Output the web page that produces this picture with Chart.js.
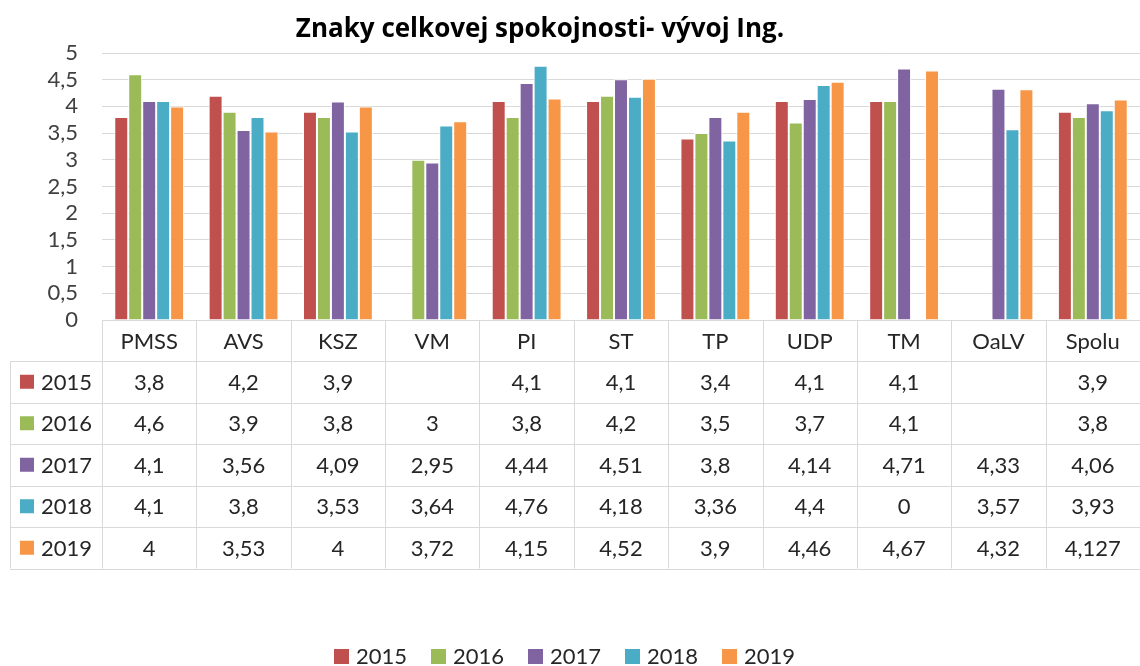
<!DOCTYPE html>
<html>
<head>
<meta charset="utf-8">
<script src="https://cdn.jsdelivr.net/npm/chart.js@4/dist/chart.umd.min.js"></script>
<style>
  html, body { margin: 0; padding: 0; background: #fff; }
  #wrap { width: 1140px; height: 666px; }
</style>
</head>
<body>
<div id="wrap"><canvas id="chart"></canvas></div>
<script>
const title = 'Znaky celkovej spokojnosti- vývoj Ing.';
const categories = ['PMSS', 'AVS', 'KSZ', 'VM', 'PI', 'ST', 'TP', 'UDP', 'TM', 'OaLV', 'Spolu'];
const years = ['2015', '2016', '2017', '2018', '2019'];
const v2015 = [3.8, 4.2, 3.9, null, 4.1, 4.1, 3.4, 4.1, 4.1, null, 3.9];
const v2016 = [4.6, 3.9, 3.8, 3, 3.8, 4.2, 3.5, 3.7, 4.1, null, 3.8];
const v2017 = [4.1, 3.56, 4.09, 2.95, 4.44, 4.51, 3.8, 4.14, 4.71, 4.33, 4.06];
const v2018 = [4.1, 3.8, 3.53, 3.64, 4.76, 4.18, 3.36, 4.4, 0, 3.57, 3.93];
const v2019 = [4, 3.53, 4, 3.72, 4.15, 4.52, 3.9, 4.46, 4.67, 4.32, 4.127];
const colors = ['#c0504d', '#9bbb59', '#8064a2', '#4bacc6', '#f79646'];

const series = [v2015, v2016, v2017, v2018, v2019];
const FONT = 'Lato, "Open Sans", sans-serif';
const gridColor = '#d9d9d9';
const textColor = '#262626';

const fmt = v => (v === null || v === undefined) ? '' : String(v).replace('.', ',');

// data table + title + legend drawn under the plot
const tablePlugin = {
  id: 'dataTable',
  afterDraw(chart) {
    const ctx = chart.ctx;
    const x = chart.scales.x;
    const area = chart.chartArea;
    const n = categories.length;
    const cw = (area.right - area.left) / n;
    const headTop = area.bottom;
    const headH = 41;
    const rowH = 41.5;
    const leftX = 10;
    const tableBottom = headTop + headH + rowH * years.length;

    ctx.save();
    ctx.strokeStyle = gridColor;
    ctx.lineWidth = 1;
    // vertical lines
    for (let i = 0; i <= n; i++) {
      const xx = Math.round(area.left + i * cw) + 0.5;
      ctx.beginPath();
      ctx.moveTo(xx, headTop);
      ctx.lineTo(xx, tableBottom);
      ctx.stroke();
    }
    ctx.beginPath();
    ctx.moveTo(leftX + 0.5, headTop + headH);
    ctx.lineTo(leftX + 0.5, tableBottom);
    ctx.stroke();
    // horizontal lines
    for (let r = 0; r <= years.length; r++) {
      const yy = Math.round(headTop + headH + r * rowH) + 0.5;
      ctx.beginPath();
      ctx.moveTo(leftX, yy);
      ctx.lineTo(area.right, yy);
      ctx.stroke();
    }

    ctx.font = '22px ' + FONT;
    ctx.fillStyle = textColor;
    ctx.textAlign = 'center';
    ctx.textBaseline = 'middle';
    categories.forEach((c, i) => {
      ctx.fillText(c, x.getPixelForValue(i), headTop + headH / 2 + 1);
    });
    series.forEach((vals, r) => {
      const cy = headTop + headH + r * rowH + rowH / 2 + 1;
      vals.forEach((v, i) => {
        ctx.fillText(fmt(v), x.getPixelForValue(i), cy);
      });
      ctx.fillStyle = colors[r];
      ctx.fillRect(20, cy - 8, 14, 14);
      ctx.fillStyle = textColor;
      ctx.textAlign = 'left';
      ctx.fillText(years[r], 41, cy);
      ctx.textAlign = 'center';
    });

    // title
    ctx.font = 'bold 26px "Open Sans", sans-serif';
    ctx.fillStyle = '#000';
    ctx.fillText(title, 540, 30);

    // legend
    ctx.font = '22px ' + FONT;
    ctx.textAlign = 'left';
    let lx = 334;
    const ly = 656;
    years.forEach((yr, i) => {
      ctx.fillStyle = colors[i];
      ctx.fillRect(lx, ly - 7, 15, 15);
      ctx.fillStyle = textColor;
      ctx.fillText(yr, lx + 22, ly + 1);
      lx += 97;
    });
    ctx.restore();
  }
};

new Chart(document.getElementById('chart'), {
  type: 'bar',
  data: {
    labels: categories,
    datasets: years.map((yr, i) => ({
      label: yr,
      data: series[i],
      backgroundColor: colors[i],
      borderColor: '#ffffff',
      borderWidth: 1,
      barPercentage: 1,
      categoryPercentage: 0.74
    }))
  },
  options: {
    responsive: true,
    maintainAspectRatio: false,
    animation: false,
    layout: { padding: { top: 53, left: 0, right: 0, bottom: 0 } },
    plugins: {
      legend: { display: false },
      title: { display: false },
      tooltip: { enabled: false }
    },
    scales: {
      x: {
        grid: { display: false },
        border: { display: true, color: gridColor },
        ticks: { display: false },
        afterFit: s => { s.height = 346; }
      },
      y: {
        min: 0,
        max: 5,
        ticks: {
          stepSize: 0.5,
          autoSkip: false,
          padding: 24,
          color: '#404040',
          font: { size: 22, family: FONT },
          callback: v => fmt(v)
        },
        grid: { color: gridColor, drawTicks: false },
        border: { display: false },
        afterFit: s => { s.width = 102; }
      }
    }
  },
  plugins: [tablePlugin]
});
</script>
</body>
</html>
